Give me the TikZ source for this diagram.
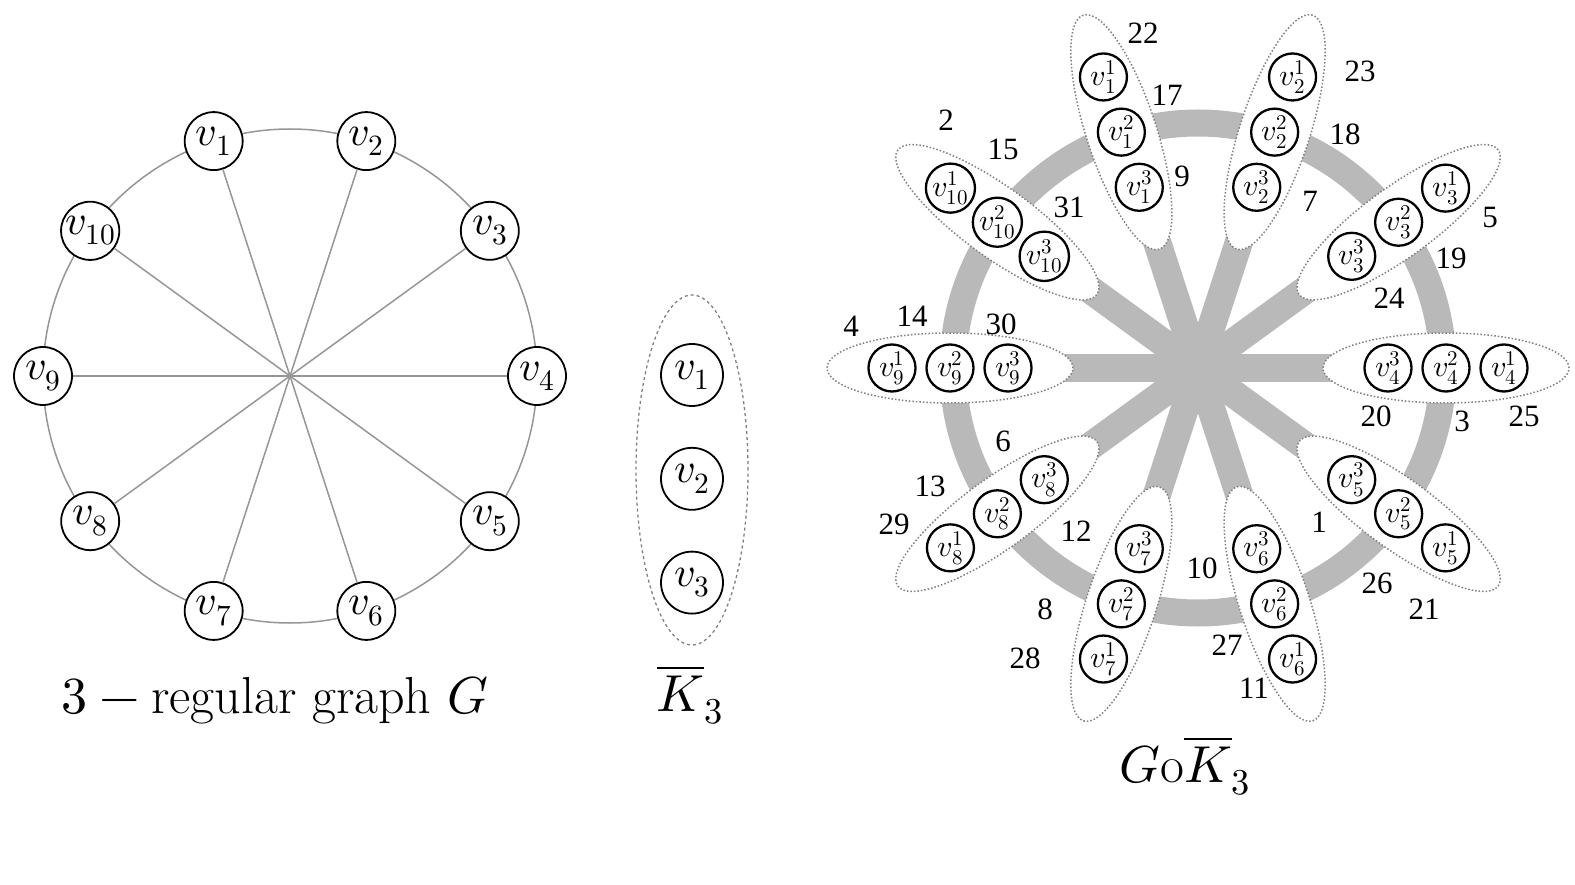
\documentclass[tikz,border=0pt]{standalone}
\usepackage{amsmath}
\usepackage{fontspec}
\usepackage{unicode-math}
\setmathfont{Latin Modern Math}
\newfontfamily\numfont{Liberation Serif}
\usetikzlibrary{shapes,shapes.geometric,positioning,backgrounds}
\definecolor{spk}{RGB}{185,185,185}
\definecolor{edg}{RGB}{150,150,150}
\tikzset{vtx/.style={draw,circle,fill=white,line width=1.8pt,inner sep=0pt,minimum size=58pt,font=\fontsize{42}{44}\selectfont}}
\tikzstyle{sv}=[vtx, line width=2.3pt, minimum size=47pt, font=\fontsize{30}{32}\selectfont]
\tikzstyle{grp}=[draw=gray, dotted, ellipse, fill=white, line width=1.5pt, minimum width=246pt, minimum height=70pt]
\tikzstyle{num}=[font=\numfont\fontsize{31}{33}\selectfont]
\tikzstyle{captxt}=[font=\fontsize{52}{56}\selectfont]

\begin{document}
\begin{tikzpicture}[x=1pt, y=-1pt, edge/.style={draw=edg, line width=1.5pt}, spoke/.style={draw=spk, line width=28pt}]
\useasboundingbox (0,0) rectangle (1575,885);
% 3-regular graph G
\coordinate (O) at (290,376);
\draw[edge] (O) circle[radius=247pt];
\node[vtx] (G1) at ([shift={(108:247pt)}]O) {$v_1$};
\node[vtx] (G2) at ([shift={(72:247pt)}]O) {$v_2$};
\node[vtx] (G3) at ([shift={(36:247pt)}]O) {$v_3$};
\node[vtx] (G4) at ([shift={(0:247pt)}]O) {$v_4$};
\node[vtx] (G5) at ([shift={(-36:247pt)}]O) {$v_5$};
\node[vtx] (G6) at ([shift={(-72:247pt)}]O) {$v_6$};
\node[vtx] (G7) at ([shift={(-108:247pt)}]O) {$v_7$};
\node[vtx] (G8) at ([shift={(-144:247pt)}]O) {$v_8$};
\node[vtx] (G9) at ([shift={(180:247pt)}]O) {$v_9$};
\node[vtx] (G10) at ([shift={(144:247pt)}]O) {$v_{10}$};
\path[edge] (G1) edge (G6)
	(G2) edge (G7)
	(G3) edge (G8)
	(G4) edge (G9)
	(G5) edge (G10);
\node[captxt] (capG) at (275,700) {$3-\text{regular graph }G$};

% K3 bar
\node[ellipse, draw=gray, dashed, line width=1.3pt, minimum width=112pt, minimum height=350pt] (K) at (692,470) {};
\node[vtx, minimum size=62pt] (K1) at (692,375) {$v_1$};
\node[vtx, minimum size=62pt] [below=40pt of K1] (K2) {$v_2$};
\node[vtx, minimum size=62pt] [below=40pt of K2] (K3) {$v_3$};
\node[captxt] (capK) at (690,695) {$\overline{K}_3$};

% corona G o K3
\coordinate (Q) at (1198,368);
\draw[spk, line width=27pt] (Q) circle[radius=245pt];
\node[grp, rotate=108] (E1) at ([shift={(108:248pt)}]Q) {};
\node[grp, rotate=72] (E2) at ([shift={(72:248pt)}]Q) {};
\node[grp, rotate=36] (E3) at ([shift={(36:248pt)}]Q) {};
\node[grp] (E4) at ([shift={(0:248pt)}]Q) {};
\node[grp, rotate=-36] (E5) at ([shift={(-36:248pt)}]Q) {};
\node[grp, rotate=-72] (E6) at ([shift={(-72:248pt)}]Q) {};
\node[grp, rotate=-108] (E7) at ([shift={(-108:248pt)}]Q) {};
\node[grp, rotate=-144] (E8) at ([shift={(-144:248pt)}]Q) {};
\node[grp] (E9) at ([shift={(180:248pt)}]Q) {};
\node[grp, rotate=144] (E10) at ([shift={(144:248pt)}]Q) {};

\node[sv] (A1) at ([shift={(108:306pt)}]Q) {$v_{1}^{1}$};
\node[sv] (B1) at ([shift={(108:248pt)}]Q) {$v_{1}^{2}$};
\node[sv] (C1) at ([shift={(108:190pt)}]Q) {$v_{1}^{3}$};
\node[sv] (A2) at ([shift={(72:306pt)}]Q) {$v_{2}^{1}$};
\node[sv] (B2) at ([shift={(72:248pt)}]Q) {$v_{2}^{2}$};
\node[sv] (C2) at ([shift={(72:190pt)}]Q) {$v_{2}^{3}$};
\node[sv] (A3) at ([shift={(36:306pt)}]Q) {$v_{3}^{1}$};
\node[sv] (B3) at ([shift={(36:248pt)}]Q) {$v_{3}^{2}$};
\node[sv] (C3) at ([shift={(36:190pt)}]Q) {$v_{3}^{3}$};
\node[sv] (A4) at ([shift={(0:306pt)}]Q) {$v_{4}^{1}$};
\node[sv] (B4) at ([shift={(0:248pt)}]Q) {$v_{4}^{2}$};
\node[sv] (C4) at ([shift={(0:190pt)}]Q) {$v_{4}^{3}$};
\node[sv] (A5) at ([shift={(-36:306pt)}]Q) {$v_{5}^{1}$};
\node[sv] (B5) at ([shift={(-36:248pt)}]Q) {$v_{5}^{2}$};
\node[sv] (C5) at ([shift={(-36:190pt)}]Q) {$v_{5}^{3}$};
\node[sv] (A6) at ([shift={(-72:306pt)}]Q) {$v_{6}^{1}$};
\node[sv] (B6) at ([shift={(-72:248pt)}]Q) {$v_{6}^{2}$};
\node[sv] (C6) at ([shift={(-72:190pt)}]Q) {$v_{6}^{3}$};
\node[sv] (A7) at ([shift={(-108:306pt)}]Q) {$v_{7}^{1}$};
\node[sv] (B7) at ([shift={(-108:248pt)}]Q) {$v_{7}^{2}$};
\node[sv] (C7) at ([shift={(-108:190pt)}]Q) {$v_{7}^{3}$};
\node[sv] (A8) at ([shift={(-144:306pt)}]Q) {$v_{8}^{1}$};
\node[sv] (B8) at ([shift={(-144:248pt)}]Q) {$v_{8}^{2}$};
\node[sv] (C8) at ([shift={(-144:190pt)}]Q) {$v_{8}^{3}$};
\node[sv] (A9) at ([shift={(180:306pt)}]Q) {$v_{9}^{1}$};
\node[sv] (B9) at ([shift={(180:248pt)}]Q) {$v_{9}^{2}$};
\node[sv] (C9) at ([shift={(180:190pt)}]Q) {$v_{9}^{3}$};
\node[sv] (A10) at ([shift={(144:306pt)}]Q) {$v_{10}^{1}$};
\node[sv] (B10) at ([shift={(144:248pt)}]Q) {$v_{10}^{2}$};
\node[sv] (C10) at ([shift={(144:190pt)}]Q) {$v_{10}^{3}$};

\begin{scope}[on background layer]
\path[spoke] (E1.center) edge (E6.center)
	(E2.center) edge (E7.center)
	(E3.center) edge (E8.center)
	(E4.center) edge (E9.center)
	(E5.center) edge (E10.center);
\end{scope}

% edge numbers
\node[num] (n1) at (1319,522) {1};
\node[num] (n2) at (946,120) {2};
\node[num] (n3) at (1462,421) {3};
\node[num] (n4) at (851,326) {4};
\node[num] (n5) at (1490,218) {5};
\node[num] (n6) at (1003,441) {6};
\node[num] (n7) at (1310,201) {7};
\node[num] (n8) at (1045,609) {8};
\node[num] (n9) at (1182,176) {9};
\node[num] (n10) at (1202,568) {10};
\node[num] (n11) at (1254,688) {11};
\node[num] (n12) at (1076,531) {12};
\node[num] (n13) at (930,486) {13};
\node[num] (n14) at (912,316) {14};
\node[num] (n15) at (1003,149) {15};
\node[num] (n17) at (1167,95) {17};
\node[num] (n18) at (1345,134) {18};
\node[num] (n19) at (1451,258) {19};
\node[num] (n20) at (1376,416) {20};
\node[num] (n21) at (1424,609) {21};
\node[num] (n22) at (1143,33) {22};
\node[num] (n23) at (1360,71) {23};
\node[num] (n24) at (1389,298) {24};
\node[num] (n25) at (1524,416) {25};
\node[num] (n26) at (1377,583) {26};
\node[num] (n27) at (1227,645) {27};
\node[num] (n28) at (1025,658) {28};
\node[num] (n29) at (894,524) {29};
\node[num] (n30) at (1001,324) {30};
\node[num] (n31) at (1069,207) {31};
\node[captxt] (capGK) at (1185,766) {$G\mathrm{o}\overline{K}_3$};
\end{tikzpicture}
\end{document}
